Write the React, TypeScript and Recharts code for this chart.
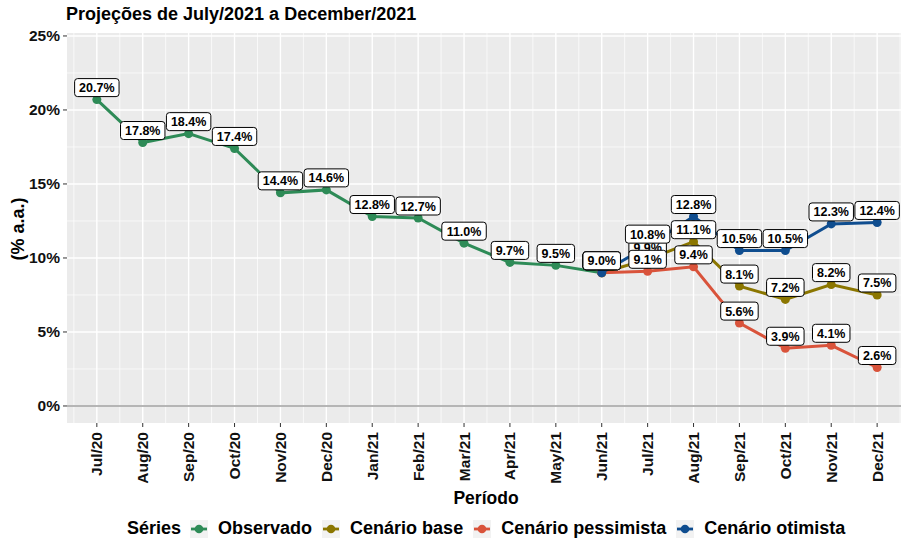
import React from 'react'
import { LineChart, Line, XAxis, YAxis, CartesianGrid, ReferenceLine, LabelList } from 'recharts'

// Períodos e séries (% a.a.)
const months = [
  'Jul/20', 'Aug/20', 'Sep/20', 'Oct/20', 'Nov/20', 'Dec/20',
  'Jan/21', 'Feb/21', 'Mar/21', 'Apr/21', 'May/21', 'Jun/21',
  'Jul/21', 'Aug/21', 'Sep/21', 'Oct/21', 'Nov/21', 'Dec/21',
]
const observado = [20.7, 17.8, 18.4, 17.4, 14.4, 14.6, 12.8, 12.7, 11.0, 9.7, 9.5, 9.0, null, null, null, null, null, null]
const cenarioBase = [null, null, null, null, null, null, null, null, null, null, null, 9.0, 9.9, 11.1, 8.1, 7.2, 8.2, 7.5]
const cenarioPessimista = [null, null, null, null, null, null, null, null, null, null, null, 9.0, 9.1, 9.4, 5.6, 3.9, 4.1, 2.6]
const cenarioOtimista = [null, null, null, null, null, null, null, null, null, null, null, 9.0, 10.8, 12.8, 10.5, 10.5, 12.3, 12.4]

const yTicks = [0, 5, 10, 15, 20, 25]
const yMinor = [2.5, 7.5, 12.5, 17.5, 22.5]

const series = [
  { key: 'obs', name: 'Observado', color: '#2E8B57' },
  { key: 'base', name: 'Cenário base', color: '#8B7600' },
  { key: 'pess', name: 'Cenário pessimista', color: '#D9533B' },
  { key: 'otim', name: 'Cenário otimista', color: '#0F4D8F' },
]

const data = months.map((m, i) => ({
  i,
  m,
  obs: observado[i],
  base: cenarioBase[i],
  pess: cenarioPessimista[i],
  otim: cenarioOtimista[i],
}))

const xTicks = months.map((_, i) => i)
const xMinor = months.slice(0, -1).map((_, i) => i + 0.5).concat([-0.5, months.length - 0.5])

const FONT = '"Liberation Sans", Arial, Helvetica, sans-serif'

const charW: Record<string, number> = { '.': 0.278, '%': 0.889 }
const textWidth = (s: string, size: number) =>
  s.split('').reduce((acc, c) => acc + (charW[c] ?? 0.556) * size, 0)

const fmt = (v: number) => v.toFixed(1) + '%'

const BoxLabel = (props: any) => {
  const { x, y, value } = props
  if (value == null || x == null || y == null) return null
  const txt = fmt(Number(value))
  const w = textWidth(txt, 12.5) + 9
  const h = 18
  const cy = y - 12
  return (
    <g>
      <rect x={x - w / 2} y={cy - h / 2} width={w} height={h} rx={3} ry={3} fill="#fff" stroke="#000" strokeWidth={1} />
      <text x={x} y={cy + 4.5} textAnchor="middle" fontFamily={FONT} fontWeight="bold" fontSize={12.5} fill="#000">
        {txt}
      </text>
    </g>
  )
}

const MonthTick = (props: any) => {
  const { x, y, payload } = props
  return (
    <text
      x={0}
      y={0}
      transform={`translate(${x + 5.5}, ${y + 3}) rotate(-90)`}
      textAnchor="end"
      fontFamily={FONT}
      fontWeight="bold"
      fontSize={15.5}
      fill="#111"
    >
      {months[payload.value]}
    </text>
  )
}

const LegendKey = ({ color }: { color: string }) => (
  <svg width={18} height={18} style={{ display: 'block' }}>
    <rect x={0} y={0} width={18} height={18} fill="#F2F2F2" />
    <line x1={1} y1={9} x2={17} y2={9} stroke={color} strokeWidth={2.8} />
    <circle cx={9} cy={9} r={4.3} fill={color} />
  </svg>
)

export default function App() {
  return (
    <div style={{ position: 'absolute', left: 0, top: 0, width: 907, height: 539, background: '#fff', fontFamily: FONT }}>
      <div style={{ position: 'absolute', left: 66, top: 4, fontSize: 18, fontWeight: 'bold', color: '#000', whiteSpace: 'nowrap' }}>
        Projeções de July/2021 a December/2021
      </div>
      <div
        style={{
          position: 'absolute',
          left: 18,
          top: 229,
          transform: 'translate(-50%, -50%) rotate(-90deg)',
          fontSize: 18,
          fontWeight: 'bold',
          whiteSpace: 'nowrap',
          color: '#000',
        }}
      >
        (% a.a.)
      </div>
      <div style={{ position: 'absolute', left: 486, top: 498, transform: 'translate(-50%, -50%)', fontSize: 17.5, fontWeight: 'bold', color: '#000' }}>
        Período
      </div>
      <div
        style={{
          position: 'absolute',
          left: 127,
          top: 518,
          display: 'flex',
          alignItems: 'center',
          fontSize: 18,
          fontWeight: 'bold',
          color: '#000',
          whiteSpace: 'nowrap',
        }}
      >
        <span style={{ marginRight: 9 }}>Séries</span>
        {series.map((s) => (
          <span key={s.key} style={{ display: 'flex', alignItems: 'center', marginRight: 10 }}>
            <LegendKey color={s.color} />
            <span style={{ marginLeft: 10 }}>{s.name}</span>
          </span>
        ))}
      </div>
      <LineChart width={907} height={539} data={data} margin={{ top: 33, right: 6, left: 0, bottom: 0 }}>
        <CartesianGrid
          fill="#EBEBEB"
          stroke="#fff"
          strokeWidth={0.7}
          horizontalValues={yMinor}
          verticalValues={xMinor}
        />
        <CartesianGrid fill="none" stroke="#fff" strokeWidth={1.4} horizontalValues={yTicks} verticalValues={xTicks} />
        <XAxis
          dataKey="i"
          type="number"
          domain={[-0.65, 17.52]}
          allowDataOverflow
          ticks={xTicks}
          interval={0}
          tick={<MonthTick />}
          tickSize={4}
          tickLine={{ stroke: '#333' }}
          axisLine={false}
          height={116}
        />
        <YAxis
          type="number"
          domain={[-1.15, 25.2]}
          allowDataOverflow
          ticks={yTicks}
          interval={0}
          tickFormatter={(v: number) => v + '%'}
          tick={{ fontFamily: FONT, fontWeight: 'bold', fontSize: 15.5, fill: '#111' }}
          tickSize={4}
          tickMargin={3}
          tickLine={{ stroke: '#333' }}
          axisLine={false}
          width={67}
        />
        <ReferenceLine y={0} stroke="#9E9E9E" strokeWidth={1.6} />
        {series.map((s) => (
          <Line
            key={s.key}
            dataKey={s.key}
            name={s.name}
            stroke={s.color}
            strokeWidth={3}
            dot={{ r: 4.5, fill: s.color, stroke: s.color, strokeWidth: 0 }}
            activeDot={false}
            isAnimationActive={false}
            type="linear"
          />
        ))}
        {series.map((s) => (
          <Line
            key={s.key + '-lbl'}
            dataKey={s.key}
            stroke="none"
            dot={false}
            activeDot={false}
            legendType="none"
            isAnimationActive={false}
          >
            <LabelList dataKey={s.key} content={<BoxLabel />} />
          </Line>
        ))}
      </LineChart>
    </div>
  )
}
